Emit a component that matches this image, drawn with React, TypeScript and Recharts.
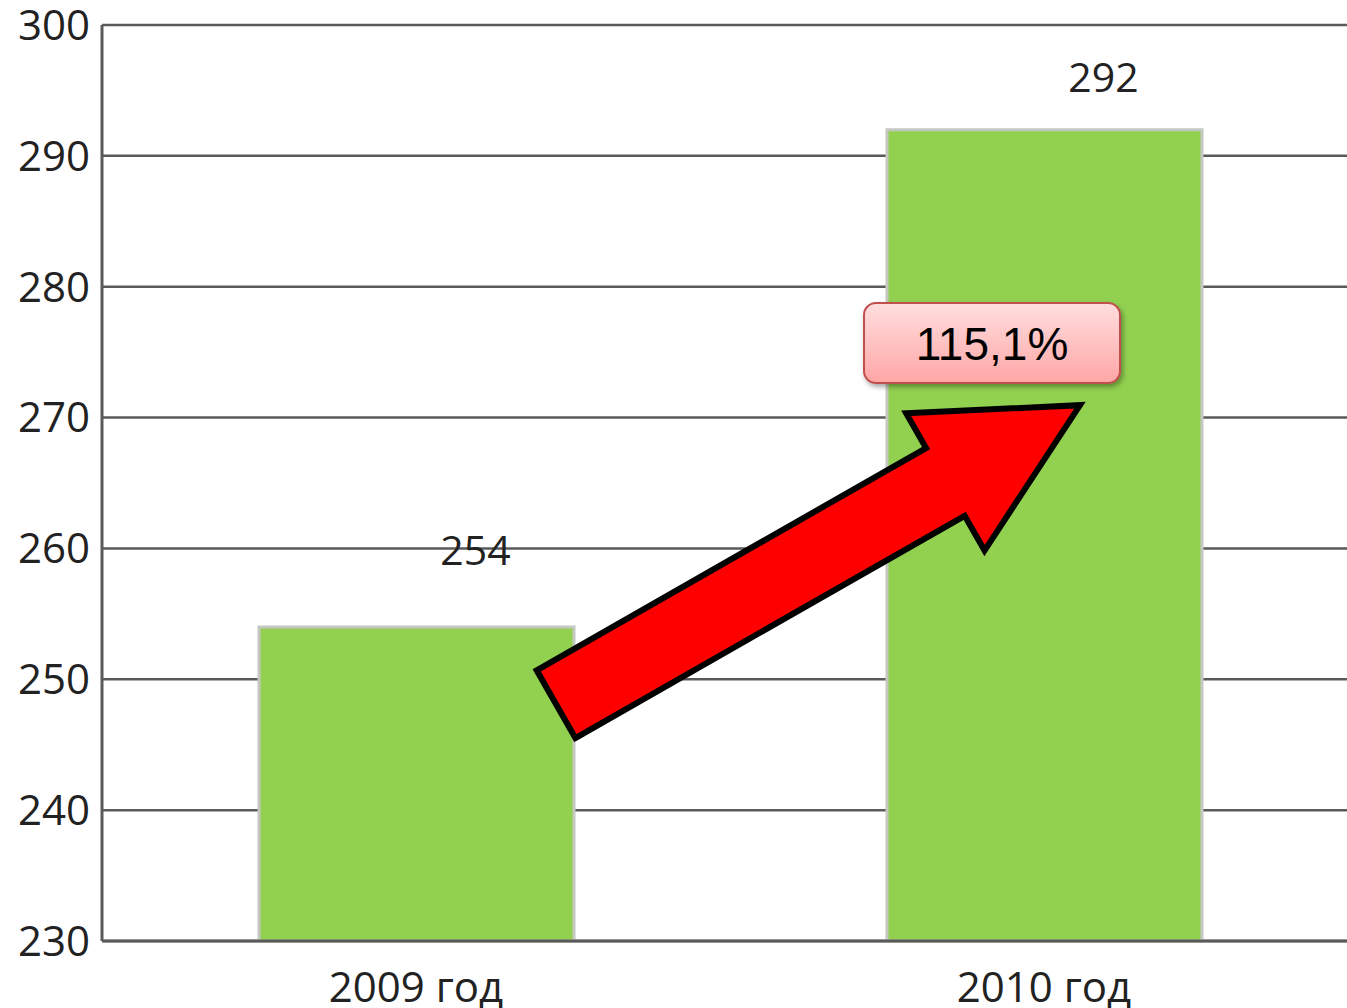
import React from 'react';
import { BarChart, Bar, XAxis, YAxis, CartesianGrid, LabelList, ReferenceLine, ReferenceDot } from 'recharts';

const categories = ['2009 год', '2010 год'];
const values = [254, 292];
const yTicks = [230, 240, 250, 260, 270, 280, 290, 300];
const growthLabel = '115,1%';
// arrow from / to: (category, value)
const arrowFrom = { x: '2009 год', y: 248.1 };
const arrowTo = { x: '2010 год', y: 270.95 };
// label box anchor: (category, value)
const boxAnchor = { x: '2010 год', y: 275.7 };

const data = categories.map((c, i) => ({ name: c, value: values[i] }));

const FONT = '"Open Sans", "DejaVu Sans", sans-serif';
const LABEL_RAISE = [62, 38];
// horizontal pixel shifts of the annotation relative to category centres
const ARROW_TAIL_SHIFT = 140;
const ARROW_TIP_SHIFT = 36;
const BOX_SHIFT = -52;
const BOX_W = 256;
const BOX_H = 80;

const ArrowShape = (props: any) => {
  const x1 = props.x1 + ARROW_TAIL_SHIFT;
  const y1 = props.y1;
  const x2 = props.x2 + ARROW_TIP_SHIFT;
  const y2 = props.y2;
  const dx = x2 - x1, dy = y2 - y1;
  const len = Math.sqrt(dx * dx + dy * dy);
  const ux = dx / len, uy = dy / len;
  const nx = -uy, ny = ux;
  const w = 39, h = 79, L = 155;
  const bx = x2 - ux * L, by = y2 - uy * L;
  const pts = [
    [x1 + nx * w, y1 + ny * w],
    [bx + nx * w, by + ny * w],
    [bx + nx * h, by + ny * h],
    [x2, y2],
    [bx - nx * h, by - ny * h],
    [bx - nx * w, by - ny * w],
    [x1 - nx * w, y1 - ny * w],
  ];
  return (
    <polygon
      points={pts.map((p) => p.join(',')).join(' ')}
      fill="#ff0000"
      stroke="#000"
      strokeWidth={6}
      strokeLinejoin="miter"
    />
  );
};

const BoxShape = (props: any) => {
  const { cx, cy } = props;
  const x = cx + BOX_SHIFT - BOX_W / 2;
  const y = cy - BOX_H / 2;
  return (
    <g>
      <defs>
        <linearGradient id="boxGrad" x1="0" y1="0" x2="0" y2="1">
          <stop offset="0%" stopColor="#ffdede" />
          <stop offset="100%" stopColor="#ffa6a6" />
        </linearGradient>
        <filter id="boxShadow" x="-10%" y="-10%" width="130%" height="140%">
          <feDropShadow dx="2" dy="3" stdDeviation="2.5" floodColor="#000" floodOpacity="0.35" />
        </filter>
      </defs>
      <rect x={x} y={y} width={BOX_W} height={BOX_H} rx={12} ry={12} fill="url(#boxGrad)" stroke="#c0504d" strokeWidth={2} filter="url(#boxShadow)" />
      <text x={x + BOX_W / 2} y={y + BOX_H / 2} dy="0.36em" textAnchor="middle" fontFamily='"Liberation Sans", Arial, sans-serif' fontSize={46} fill="#000">
        {growthLabel}
      </text>
    </g>
  );
};

const ValueLabel = (props: any) => {
  const { x, y, width, value, index } = props;
  return (
    <text x={x + width / 2 + 59} y={y - (LABEL_RAISE[index] ?? 62)} textAnchor="middle" fontFamily={FONT} fontSize={41} fill="#222">
      {value}
    </text>
  );
};

const XTick = (props: any) => {
  const { x, y, payload } = props;
  return (
    <text x={x} y={y} dy={53} textAnchor="middle" fontFamily={FONT} fontSize={42} fill="#222">
      {payload.value}
    </text>
  );
};

export default function App() {
  return (
    <div style={{ position: 'absolute', left: 0, top: 0, width: 1347, height: 1008, background: '#fff', overflow: 'hidden' }}>
      <BarChart width={1358} height={1008} data={data} margin={{ top: 25, right: 0, bottom: 0, left: 0 }}>
        <CartesianGrid vertical={false} stroke="#5a5a5a" strokeWidth={2.5} />
        <XAxis dataKey="name" tick={<XTick />} tickLine={false} axisLine={{ stroke: '#5a5a5a', strokeWidth: 3 }} height={67} />
        <YAxis
          domain={[230, 300]}
          ticks={yTicks}
          interval={0}
          width={102}
          tickLine={false}
          tickMargin={6}
          axisLine={{ stroke: '#5a5a5a', strokeWidth: 3 }}
          tick={{ fontFamily: FONT, fontSize: 42, fill: '#222' }}
        />
        <Bar dataKey="value" fill="#92d050" stroke="#c4c8c0" strokeWidth={3} barSize={315} isAnimationActive={false}>
          <LabelList dataKey="value" content={<ValueLabel />} />
        </Bar>
        <ReferenceDot x={boxAnchor.x} y={boxAnchor.y} shape={<BoxShape />} ifOverflow="visible" />
        <ReferenceLine segment={[arrowFrom, arrowTo]} shape={<ArrowShape />} ifOverflow="visible" />
      </BarChart>
    </div>
  );
}
